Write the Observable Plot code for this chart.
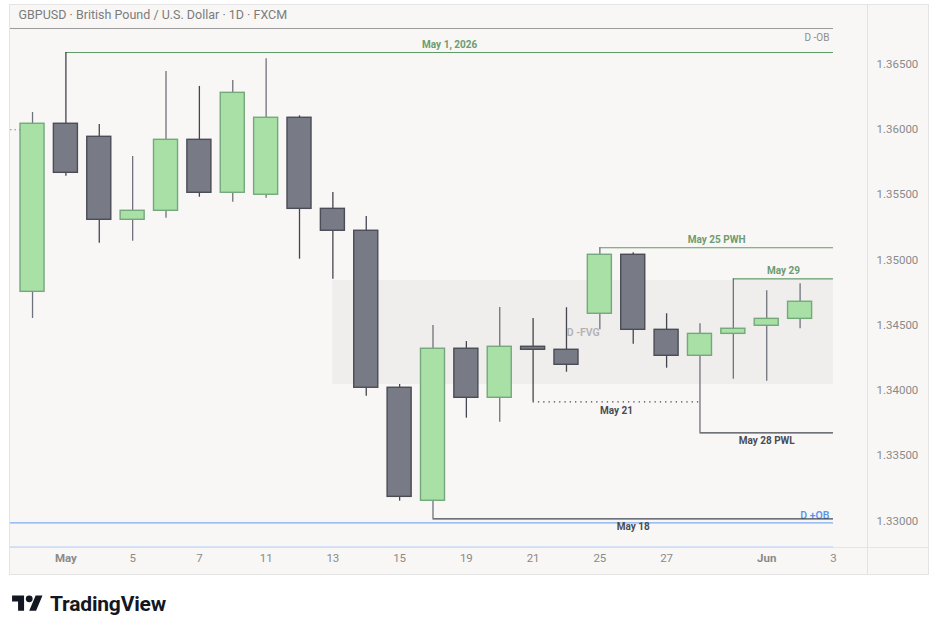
<!DOCTYPE html>
<html><head><meta charset="utf-8">
<script src="https://cdn.jsdelivr.net/npm/d3@7"></script>
<script src="https://cdn.jsdelivr.net/npm/@observablehq/plot@0.6"></script>
<style>
body{margin:0;background:#fff;font-family:Roboto,sans-serif;}
#wrap{position:relative;width:939px;height:635px;overflow:hidden}
#panel{position:absolute;left:9px;top:4px;width:920px;height:571px;box-sizing:border-box;background:#f8f7f5;border:1px solid #e4e4e4}
#vdiv{position:absolute;left:867px;top:4px;width:1px;height:571px;background:#e2e2e2}
#hdiv{position:absolute;left:9px;top:547px;width:920px;height:1px;background:#e4e4e4}
#chart{position:absolute;left:0;top:0}
#logo{position:absolute;left:12px;top:592px;display:flex;align-items:center;gap:7px}
#logo span{font-family:Roboto,sans-serif;font-weight:700;font-size:21px;color:#131722;letter-spacing:-0.2px}
</style></head>
<body>
<div id="wrap">
  <div id="panel"></div>
  <div id="vdiv"></div>
  <div id="hdiv"></div>
  <div id="chart"></div>
  <div id="logo">
    <svg width="31" height="24" viewBox="0 0 36 28"><path d="M14 22H7V11H0V4h14v18z M28 22h-8l7.5-18h8L28 22z" fill="#131722"/><circle cx="20" cy="8" r="4" fill="#131722"/></svg>
    <span>TradingView</span>
  </div>
</div>
<script>
// ---- data ----
const title = "GBPUSD · British Pound / U.S. Dollar · 1D · FXCM";
const dates = ["Apr 30","May 1","May 4","May 5","May 6","May 7","May 8","May 11","May 12","May 13","May 14","May 15","May 18","May 19","May 20","May 21","May 22","May 25","May 26","May 27","May 28","May 29","Jun 1","Jun 2"];
const open  = [1.34756,1.36044,1.35944,1.35308,1.35377,1.35921,1.35515,1.35500,1.36090,1.35392,1.35224,1.34021,1.33155,1.34320,1.33944,1.34335,1.34312,1.34588,1.35040,1.34465,1.34266,1.34434,1.34496,1.34549];
const high  = [1.36130,1.36590,1.36038,1.35793,1.36444,1.36330,1.36376,1.36542,1.36105,1.35517,1.35333,1.34046,1.34498,1.34375,1.34636,1.34552,1.34634,1.35094,1.35055,1.34588,1.34511,1.34856,1.34764,1.34818];
const low   = [1.34552,1.35642,1.35129,1.35144,1.35320,1.35481,1.35443,1.35474,1.35006,1.34853,1.33956,1.33152,1.33017,1.33788,1.33757,1.33913,1.34140,1.34465,1.34355,1.34171,1.33676,1.34087,1.34071,1.34473];
const close = [1.36044,1.35668,1.35308,1.35377,1.35921,1.35515,1.36281,1.36090,1.35392,1.35224,1.34021,1.33185,1.34320,1.33944,1.34335,1.34312,1.34197,1.35040,1.34465,1.34266,1.34434,1.34473,1.34549,1.34680];

const timeTickIdx    = [1,3,5,7,9,11,13,15,17,19,22,24];
const timeTickLabels = ["May","5","7","11","13","15","19","21","25","27","Jun","3"];
const monthTicks     = ["May","Jun"];
const priceTicks     = [1.330,1.335,1.340,1.345,1.350,1.355,1.360,1.365];

// level lines (swing highs / lows)
const levelLabels = ["May 1, 2026","May 25 PWH","May 29","May 21","May 28 PWL","May 18"];
const levelPrices = [1.36590,1.35094,1.34856,1.33913,1.33676,1.33017];
const levelStart  = [1,17,21,15,20,12];
const levelEnd    = [24,24,24,20,24,24];
const levelSide   = ["high","high","high","low","low","low"];
const levelDotted = [false,false,false,true,false,false];

// order blocks / FVG
const obLabels = ["D -OB","D +OB"];
const obPrices = [1.36774,1.32986];
const fvgLabel = "D -FVG";
const fvgLow = 1.34046, fvgHigh = 1.34843, fvgStart = 9;
const lastSlot = 24;
const stubPrice = 1.35998;

// ---- build ----
const xDomain = [-0.66, 25.02];
const yDomain = [1.327969, 1.369502];
const half = 0.36;
const candles = dates.map((d,i)=>({i, date:d, open:open[i], high:high[i], low:low[i], close:close[i], up: close[i] >= open[i]}));
const bull = candles.filter(d=>d.up), bear = candles.filter(d=>!d.up);
const levels = levelLabels.map((label,k)=>({label, price:levelPrices[k], x1:levelStart[k], x2:levelEnd[k], mid:(levelStart[k]+levelEnd[k])/2, side:levelSide[k], dotted:levelDotted[k]}));
const ticks = timeTickIdx.map((i,k)=>({i, label:timeTickLabels[k], month: monthTicks.includes(timeTickLabels[k])}));
const obs = obLabels.map((label,k)=>({label, price:obPrices[k]}));
const fvg = [{x1:fvgStart, x2:lastSlot, y1:fvgLow, y2:fvgHigh, label:fvgLabel}];

const green = "#5f9b66", greenText = "#6c9c71", dark = "#434651";

const chart = Plot.plot({
  width: 939, height: 635,
  marginLeft: 10, marginRight: 72, marginTop: 5, marginBottom: 88,
  x: {domain: xDomain, axis: null},
  y: {domain: yDomain, axis: null},
  style: {fontFamily: "Roboto, sans-serif", background: "transparent", overflow: "visible"},
  marks: [
    Plot.rect(fvg, {x1:"x1", x2:"x2", y1:"y1", y2:"y2", fill:"#efeeec"}),
    Plot.text(fvg, {x: d=>(d.x1+d.x2)/2, y: d=>(d.y1+d.y2)/2, text:"label", fill:"#b2b2b2", fontSize:10.5, fontWeight:600}),
    // OB lines
    Plot.ruleY(obs.slice(0,1), {y:"price", x1:xDomain[0], x2:lastSlot, stroke:"#9b9b9b", strokeWidth:1}),
    Plot.ruleY(obs.slice(1), {y:"price", x1:xDomain[0], x2:lastSlot, stroke:"#7eaef2", strokeWidth:1.2}),
    Plot.ruleY([yDomain[0]], {y: d=>d, x1:xDomain[0], x2:lastSlot, stroke:"#c9dcf5", strokeWidth:1.5, dy:-0.5}),
    Plot.text(obs.slice(0,1), {x:lastSlot, y:"price", text:"label", textAnchor:"end", dx:-4, dy:9, fill:"#8d8d8d", fontSize:10}),
    Plot.text(obs.slice(1), {x:lastSlot, y:"price", text:"label", textAnchor:"end", dx:-4, dy:-7, fill:"#5b97ee", fontSize:10.5, fontWeight:600}),
    Plot.ruleY([stubPrice], {y:d=>d, x1:xDomain[0], x2:-0.36, stroke:"#8d8d8d", strokeDasharray:"1.5,3", strokeWidth:1.2}),
    // level lines
    Plot.ruleY(levels.filter(d=>d.side==="high"), {y:"price", x1:"x1", x2:"x2", stroke:green, strokeWidth:1.2}),
    Plot.ruleY(levels.filter(d=>d.side==="low" && !d.dotted), {y:"price", x1:"x1", x2:"x2", stroke:dark, strokeWidth:1.2}),
    Plot.ruleY(levels.filter(d=>d.dotted), {y:"price", x1:"x1", x2:"x2", stroke:dark, strokeWidth:1.3, strokeDasharray:"1.3,4"}),
    Plot.text(levels.filter(d=>d.side==="high"), {x:"mid", y:"price", text:"label", dy:-8, fill:greenText, fontSize:10, fontWeight:700}),
    Plot.text(levels.filter(d=>d.side==="low"), {x:"mid", y:"price", text:"label", dy:8.5, fill:"#4a4c55", fontSize:10, fontWeight:700}),
    // wicks
    Plot.ruleX(bull, {x:"i", y1:"low", y2:"high", stroke:"#6f727c", strokeWidth:1.3}),
    Plot.ruleX(bear, {x:"i", y1:"low", y2:"high", stroke:dark, strokeWidth:1.3}),
    // bodies
    Plot.rect(bull, {x1:d=>d.i-half, x2:d=>d.i+half, y1:"open", y2:"close", fill:"#a9e0a6", stroke:"#74a87c", strokeWidth:1.4}),
    Plot.rect(bear, {x1:d=>d.i-half, x2:d=>d.i+half, y1:"open", y2:"close", fill:"#787b86", stroke:"#4a4c56", strokeWidth:1.4}),
    // header title
    Plot.text([title], {text:d=>d, frameAnchor:"top-left", dx:8, dy:9, lineAnchor:"middle", textAnchor:"start", fill:"#7c7c7c", fontSize:12.5}),
    // price axis
    Plot.text(priceTicks, {x:xDomain[1], y:d=>d, text:d=>d.toFixed(5), textAnchor:"start", dx:9, fill:"#8a8a8a", fontSize:11.5}),
    // time axis
    Plot.text(ticks.filter(d=>!d.month), {x:"i", text:"label", frameAnchor:"bottom", dy:14, fill:"#8a8a8a", fontSize:11.5}),
    Plot.text(ticks.filter(d=>d.month), {x:"i", text:"label", frameAnchor:"bottom", dy:14, fill:"#8a8a8a", fontSize:11.5, fontWeight:700})
  ]
});
document.getElementById("chart").appendChild(chart);
</script>
</body></html>
